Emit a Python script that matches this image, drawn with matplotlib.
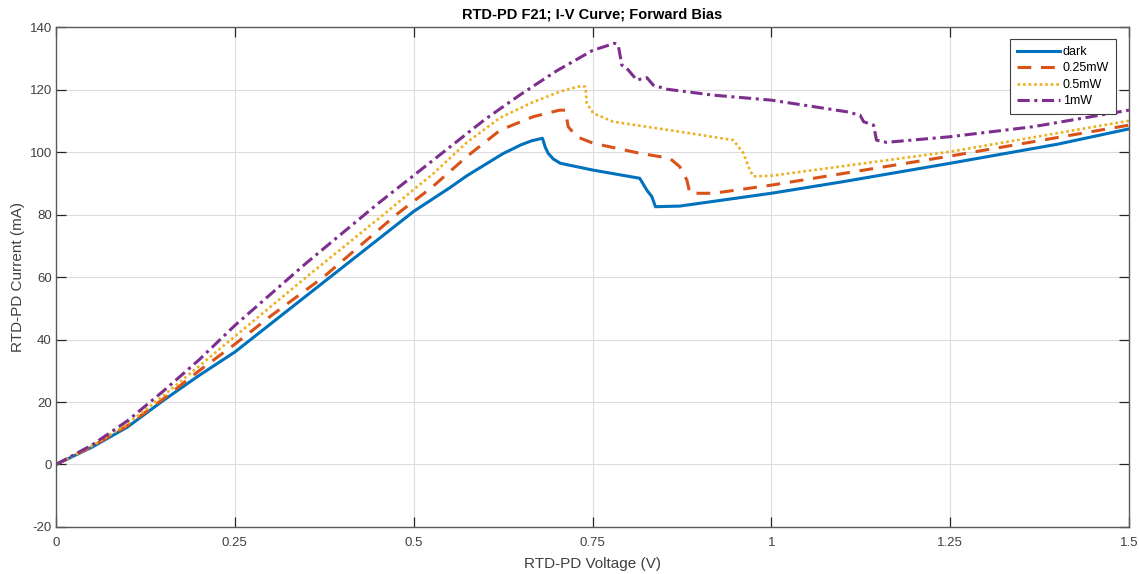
import numpy as np
import matplotlib
matplotlib.use("Agg")
import matplotlib.pyplot as plt

plt.rcParams['font.family'] = ['Liberation Sans', 'DejaVu Sans']
plt.rcParams['axes.unicode_minus'] = False

# I-V data (V in volts, I in mA)
v_dark = [0, 0.05, 0.1, 0.15, 0.2, 0.25, 0.3, 0.35, 0.4, 0.45, 0.5, 0.55, 0.575, 0.6, 0.625, 0.65,
          0.665, 0.68, 0.684, 0.688, 0.695, 0.705, 0.751, 0.816, 0.826, 0.833, 0.838, 0.872, 0.9,
          1.0, 1.1, 1.25, 1.4, 1.5]
i_dark = [0, 5.5, 12, 20.5, 28.5, 36, 45, 54, 63, 72, 81, 88.5, 92.5, 96, 99.5, 102.3,
          103.6, 104.4, 101.5, 99.6, 97.8, 96.4, 94.2, 91.6, 87.8, 85.7, 82.5, 82.7, 83.6,
          86.8, 90.5, 96.4, 102.5, 107.4]

v_025 = [0, 0.05, 0.1, 0.15, 0.2, 0.25, 0.3, 0.374, 0.476, 0.527, 0.574, 0.621, 0.667, 0.704,
         0.712, 0.716, 0.728, 0.751, 0.816, 0.858, 0.872, 0.882, 0.886, 0.919, 1.0, 1.25, 1.5]
i_025 = [0, 5.7, 12.5, 21, 30, 38.5, 47.5, 60, 80, 89, 98.5, 107, 111.3, 113.4,
         113.4, 108.1, 104.9, 102.8, 99.6, 98, 95.3, 91, 86.8, 86.8, 89.4, 98.7, 108.6]

v_05 = [0, 0.05, 0.1, 0.15, 0.2, 0.25, 0.35, 0.458, 0.5, 0.527, 0.574, 0.621, 0.667, 0.704,
        0.733, 0.740, 0.742, 0.751, 0.779, 0.872, 0.947, 0.961, 0.970, 0.975, 1.0, 1.25, 1.5]
i_05 = [0, 5.9, 13, 22, 31.5, 41, 60, 80, 88, 93, 103, 111, 116, 119.3,
        121.1, 120.9, 115.6, 112.4, 109.7, 106.5, 103.8, 99.6, 94.2, 92.2, 92.4, 100.1, 110]

v_1 = [0, 0.05, 0.1, 0.15, 0.2, 0.25, 0.3, 0.35, 0.4, 0.45, 0.5, 0.55, 0.6, 0.65, 0.7, 0.75,
       0.781, 0.786, 0.791, 0.798, 0.812, 0.821, 0.826, 0.835, 0.854, 0.919, 1.0, 1.105, 1.124,
       1.129, 1.143, 1.147, 1.161, 1.25, 1.366, 1.5]
i_1 = [0, 6.2, 14, 23.5, 33.5, 44.5, 54.5, 64.5, 74, 83.5, 92.5, 101.5, 110.5, 118.5, 126, 132.5,
       134.8, 134.2, 127.8, 126.8, 123, 123.6, 123.8, 121.4, 120.1, 118.2, 116.6, 112.9, 111.8,
       109.7, 108.6, 103.8, 103.1, 104.9, 108.1, 113.4]

labels = ['dark', '0.25mW', '0.5mW', '1mW']
xticks = [0, 0.25, 0.5, 0.75, 1, 1.25, 1.5]
xtick_labels = ['0', '0.25', '0.5', '0.75', '1', '1.25', '1.5']
yticks = [-20, 0, 20, 40, 60, 80, 100, 120, 140]

fig = plt.figure(figsize=(11.39, 5.74), dpi=100)
ax = fig.add_axes([0.0492, 0.0819, 0.942, 0.871])

ax.plot(v_dark, i_dark, color='#0072BD', lw=2.2, ls='-', label=labels[0])
ax.plot(v_025, i_025, color='#D95319', lw=2.2, ls=(0, (4.5, 3.2)), label=labels[1])
ax.plot(v_05, i_05, color='#EDB120', lw=1.9, ls=(0, (1, 1.1)), label=labels[2])
ax.plot(v_1, i_1, color='#7E2F8E', lw=2.2, ls=(0, (4, 1.5, 1, 1.5)), label=labels[3])

ax.set_xlim(0, 1.5)
ax.set_ylim(-20, 140)
ax.set_xticks(xticks)
ax.set_xticklabels(xtick_labels)
ax.set_yticks(yticks)

ax.grid(True, color='#dcdcdc', lw=0.8)
ax.tick_params(direction='in', top=True, right=True, length=7.5, width=0.9, labelsize=9.5,
               colors='#262626', labelcolor='#404040')
ax.tick_params(axis='x', pad=7)
ax.tick_params(axis='y', pad=3)
for s in ax.spines.values():
    s.set_color('#5a5a5a')
    s.set_linewidth(1.0)

ax.set_xlabel('RTD-PD Voltage (V)', fontsize=11, color='#404040', labelpad=6)
ax.set_ylabel('RTD-PD Current (mA)', fontsize=11, color='#404040', labelpad=3)
ax.set_title('RTD-PD F21; I-V Curve; Forward Bias', fontsize=10.5, fontweight='bold', pad=6)

leg = ax.legend(loc='upper right', bbox_to_anchor=(0.9879, 0.976), borderaxespad=0,
                fontsize=9, handlelength=3.4, handletextpad=0.25, borderpad=0.55,
                labelspacing=0.36, fancybox=False, framealpha=1)
leg.get_frame().set_edgecolor('#404040')
leg.get_frame().set_linewidth(0.8)

fig.savefig('out.png', dpi=100)
